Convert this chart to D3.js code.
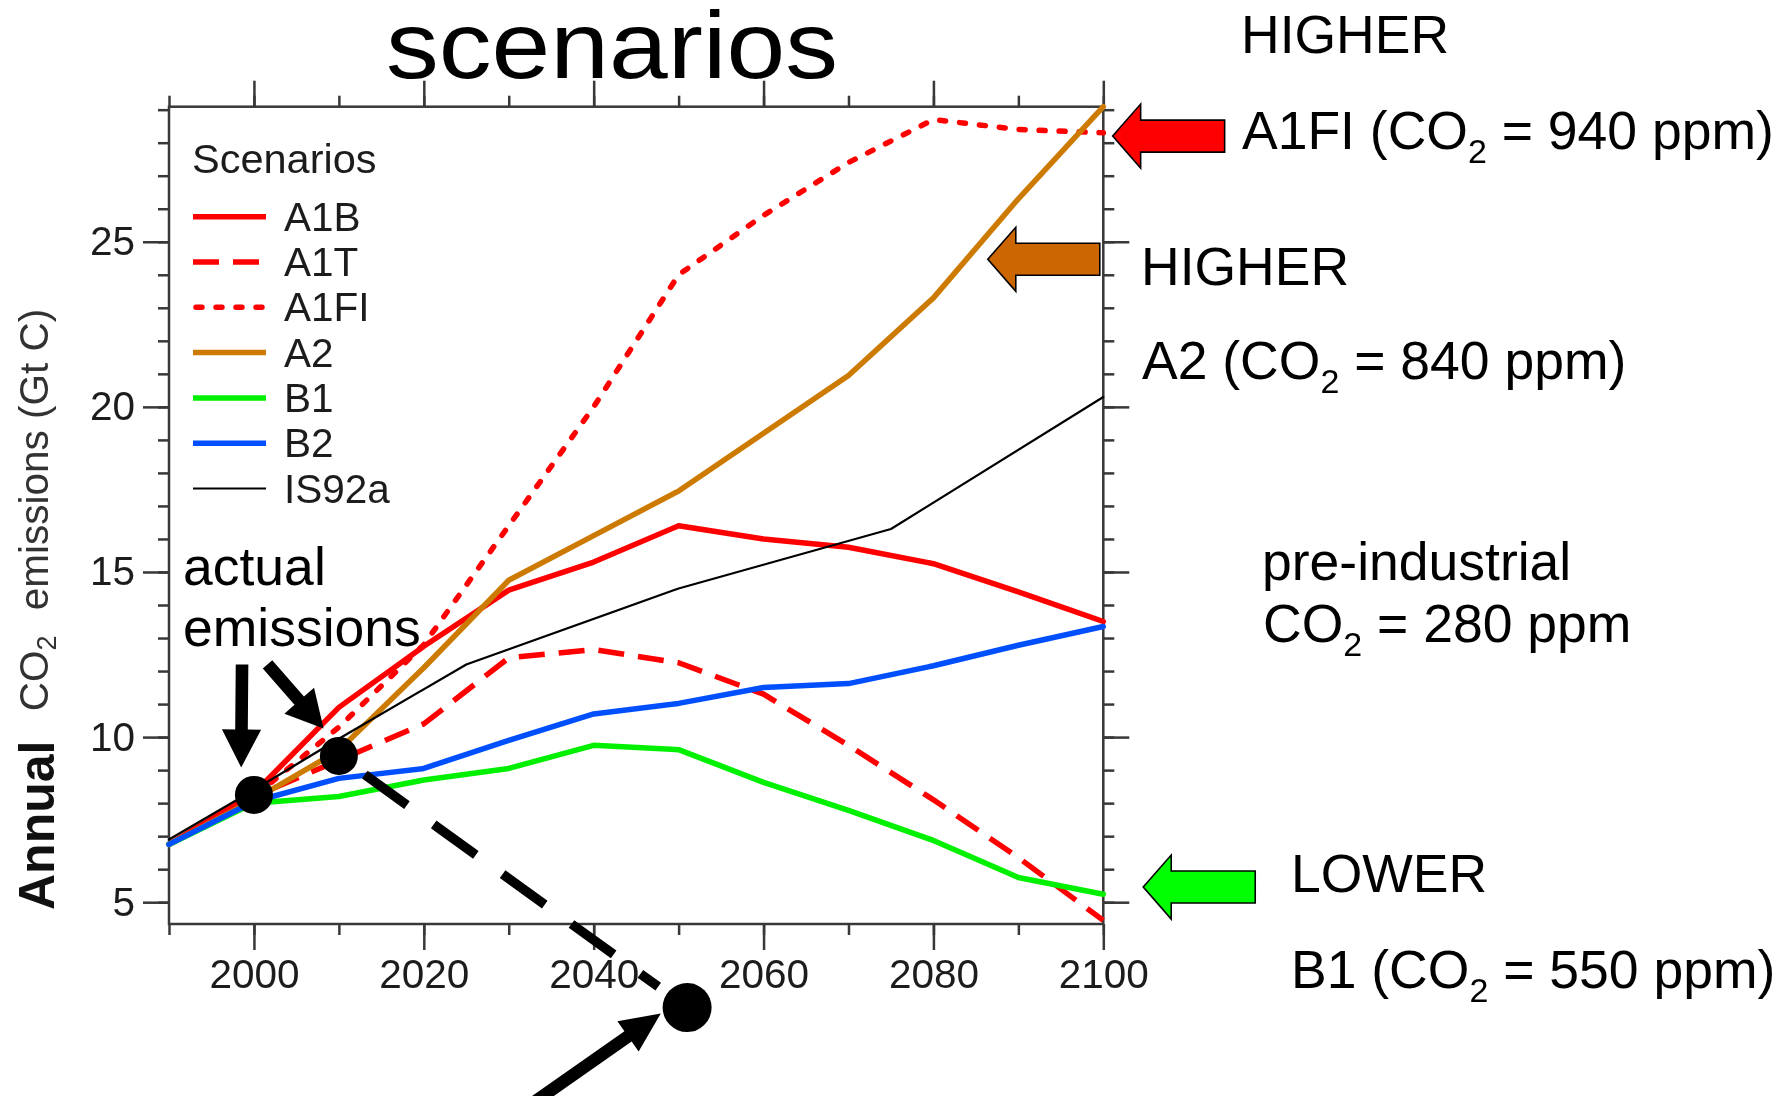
<!DOCTYPE html>
<html>
<head>
<meta charset="utf-8">
<script src="https://cdn.jsdelivr.net/npm/d3@7"></script>
<style>
  html, body { margin: 0; padding: 0; background: #fff; }
  svg { display: block; }
</style>
</head>
<body>
<svg id="chart" width="1775" height="1096"></svg>
<script>
// ---- data: annual CO2 emissions (Gt C) per scenario ----
const years = [1990, 2000, 2010, 2020, 2030, 2040, 2050, 2060, 2070, 2080, 2090, 2100];
const a1b  = [6.75, 8.3, 10.9, 12.75, 14.45, 15.3, 16.4, 16.0, 15.75, 15.25, 14.4, 13.5];
const a1t  = [6.75, 8.2, 9.3, 10.4, 12.4, 12.65, 12.25, 11.3, 9.75, 8.1, 6.35, 4.45];
const a1fi = [6.75, 8.2, 10.3, 12.8, 16.4, 20.0, 24.0, 25.8, 27.4, 28.7, 28.4, 28.3];
const a2   = [6.75, 8.1, 9.6, 12.1, 14.75, 16.1, 17.45, 19.2, 20.95, 23.3, 26.3, 29.09];
const b1   = [6.75, 8.0, 8.2, 8.7, 9.05, 9.75, 9.62, 8.63, 7.78, 6.87, 5.75, 5.24];
const b2   = [6.75, 8.05, 8.75, 9.05, 9.9, 10.7, 11.02, 11.5, 11.62, 12.16, 12.78, 13.35];
const is92aYears = [1990, 2000, 2010, 2025, 2050, 2075, 2100];
const is92a = [6.9, 8.4, 9.95, 12.2, 14.5, 16.3, 20.3];

const legendNames = ["A1B", "A1T", "A1FI", "A2", "B1", "B2", "IS92a"];

// ticks
const xMajorTicks = [2000, 2020, 2040, 2060, 2080, 2100];
const xMinorTicks = [1990, 2000, 2010, 2020, 2030, 2040, 2050, 2060, 2070, 2080, 2090, 2100];
const yMajorTicks = [5, 10, 15, 20, 25];
const yMinorTicks = d3.range(5, 30);

// actual emissions markers (year, Gt C)
const actualYears  = [2000, 2010, 2051];
const actualValues = [8.25, 9.43, 1.81];

// ---- layout ----
const svg = d3.select("#chart");
const FONT = "'Liberation Sans', Arial, Helvetica, sans-serif";
const plot = { left: 169, right: 1103.3, top: 106.7, bottom: 924 };

const x = d3.scaleLinear().domain([1990, 2100]).range([plot.left, plot.right]);
const y = d3.scaleLinear().domain([4.34, 29.09]).range([plot.bottom, plot.top]);

const defs = svg.append("defs");
defs.append("filter").attr("id", "soft")
  .attr("x", "-5%").attr("y", "-5%").attr("width", "110%").attr("height", "110%")
  .append("feGaussianBlur").attr("stdDeviation", 0.7);

const chart = svg.append("g").attr("filter", "url(#soft)");

const AXIS_COL = "#383838";
const LABEL_COL = "#1e1e1e";
function styleAxis(sel) {
  sel.select(".domain").remove();
  sel.selectAll(".tick line").attr("stroke", AXIS_COL).attr("stroke-width", 2.5);
  sel.selectAll(".tick text")
    .attr("fill", LABEL_COL)
    .attr("font-family", FONT)
    .attr("font-size", 40.5);
}

// bottom
chart.append("g").attr("transform", `translate(0,${plot.bottom})`)
  .call(d3.axisBottom(x).tickValues(xMinorTicks).tickSize(11).tickFormat(""))
  .call(styleAxis);
chart.append("g").attr("transform", `translate(0,${plot.bottom})`)
  .call(d3.axisBottom(x).tickValues(xMajorTicks).tickSize(26).tickPadding(9).tickFormat(d3.format("d")))
  .call(styleAxis);
// top
chart.append("g").attr("transform", `translate(0,${plot.top})`)
  .call(d3.axisTop(x).tickValues(xMinorTicks).tickSize(11).tickFormat(""))
  .call(styleAxis);
chart.append("g").attr("transform", `translate(0,${plot.top})`)
  .call(d3.axisTop(x).tickValues(xMajorTicks).tickSize(26).tickFormat(""))
  .call(styleAxis);
// left
chart.append("g").attr("transform", `translate(${plot.left},0)`)
  .call(d3.axisLeft(y).tickValues(yMinorTicks).tickSize(11).tickFormat(""))
  .call(styleAxis);
chart.append("g").attr("transform", `translate(${plot.left},0)`)
  .call(d3.axisLeft(y).tickValues(yMajorTicks).tickSize(26).tickPadding(8).tickFormat(d3.format("d")))
  .call(styleAxis);
// right
chart.append("g").attr("transform", `translate(${plot.right},0)`)
  .call(d3.axisRight(y).tickValues(yMinorTicks).tickSize(11).tickFormat(""))
  .call(styleAxis);
chart.append("g").attr("transform", `translate(${plot.right},0)`)
  .call(d3.axisRight(y).tickValues(yMajorTicks).tickSize(26).tickFormat(""))
  .call(styleAxis);

// frame
chart.append("rect")
  .attr("x", plot.left).attr("y", plot.top)
  .attr("width", plot.right - plot.left).attr("height", plot.bottom - plot.top)
  .attr("fill", "none").attr("stroke", AXIS_COL).attr("stroke-width", 2.5);

// ---- series ----
const zip = (xs, vs) => xs.map((yr, i) => ({ year: yr, value: vs[i] }));
const series = [
  { name: "A1FI",  data: zip(years, a1fi), color: "#ff0000", width: 5.5, dash: "6 14", cap: "round" },
  { name: "A1T",   data: zip(years, a1t),  color: "#ff0000", width: 5.5, dash: "26 14", cap: "butt" },
  { name: "A1B",   data: zip(years, a1b),  color: "#ff0000", width: 5.5, dash: null, cap: "round" },
  { name: "A2",    data: zip(years, a2),   color: "#cc7a00", width: 5.5, dash: null, cap: "round" },
  { name: "B1",    data: zip(years, b1),   color: "#00f000", width: 5.5, dash: null, cap: "round" },
  { name: "B2",    data: zip(years, b2),   color: "#0050ff", width: 5.5, dash: null, cap: "round" },
  { name: "IS92a", data: zip(is92aYears, is92a), color: "#000000", width: 2.2, dash: null, cap: "round" }
];

const line = d3.line().x(d => x(d.year)).y(d => y(d.value));

chart.append("g").selectAll("path").data(series).join("path")
  .attr("d", d => line(d.data))
  .attr("fill", "none")
  .attr("stroke", d => d.color)
  .attr("stroke-width", d => d.width)
  .attr("stroke-dasharray", d => d.dash)
  .attr("stroke-linecap", d => d.cap)
  .attr("stroke-linejoin", "round");

// ---- legend ----
const legend = chart.append("g");
legend.append("text")
  .attr("x", 192).attr("y", 172.7)
  .attr("font-family", FONT).attr("font-size", 41.5).attr("fill", LABEL_COL)
  .text("Scenarios");

const styleByName = Object.fromEntries(series.map(s => [s.name, s]));
const rows = legend.selectAll("g.row").data(legendNames).join("g")
  .attr("class", "row")
  .attr("transform", (d, i) => `translate(0,${216.7 + i * 45.3})`);
rows.append("line")
  .attr("x1", d => styleByName[d].cap === "round" && styleByName[d].dash ? 196 : 193)
  .attr("x2", 266)
  .attr("stroke", d => styleByName[d].color)
  .attr("stroke-width", d => styleByName[d].width)
  .attr("stroke-dasharray", d => styleByName[d].dash)
  .attr("stroke-linecap", d => styleByName[d].dash ? styleByName[d].cap : "butt");
rows.append("text")
  .attr("x", 284).attr("y", 14)
  .attr("font-family", FONT).attr("font-size", 40.5).attr("fill", LABEL_COL)
  .text(d => d);

// ---- axis titles ----
const yTitle = chart.append("text")
  .attr("transform", "translate(48,510) rotate(-90)")
  .attr("text-anchor", "middle")
  .attr("font-family", FONT).attr("font-size", 40.5).attr("fill", "#333");
yTitle.append("tspan").text("CO");
yTitle.append("tspan").attr("font-size", 27).attr("dy", 8).text("2");
yTitle.append("tspan").attr("dy", -8).attr("dx", 14).text(" emissions (Gt C)");

svg.append("text")
  .attr("transform", "translate(54,910) rotate(-90)")
  .attr("font-family", FONT).attr("font-weight", "bold").attr("font-size", 50).attr("fill", "#111")
  .text("Annual");

// ---- title ----
svg.append("text")
  .attr("x", 386).attr("y", 78)
  .attr("font-family", FONT).attr("font-size", 95).attr("fill", "#000")
  .attr("textLength", 452).attr("lengthAdjust", "spacingAndGlyphs")
  .text("scenarios");

// ---- annotations ----
const ann = svg.append("g");

// text with a CO2 subscript
function richText(px, py, before, after) {
  const t = ann.append("text").attr("x", px).attr("y", py)
    .attr("font-family", FONT).attr("font-size", 53.5).attr("fill", "#000");
  if (after === undefined) { t.text(before); return t; }
  t.append("tspan").text(before);
  t.append("tspan").attr("font-size", 34).attr("dy", 14).text("2");
  t.append("tspan").attr("dy", -14).text(after);
  return t;
}
richText(1241, 53, "HIGHER");
richText(1242, 149, "A1FI (CO", " = 940 ppm)");
richText(1141, 285, "HIGHER");
richText(1142, 379, "A2 (CO", " = 840 ppm)");
richText(1262, 580, "pre-industrial");
richText(1263, 642, "CO", " = 280 ppm");
richText(1291, 892, "LOWER");
richText(1291, 988, "B1 (CO", " = 550 ppm)");
richText(183, 585, "actual");
richText(183, 646, "emissions");

// left-pointing block arrows at the scenario levels (tip year, level)
const blockArrows = [
  { tipYear: 2101.1, level: 28.2,  color: "#ff0000" },
  { tipYear: 2086.4, level: 24.47, color: "#cc6600" },
  { tipYear: 2104.7, level: 5.46,  color: "#00ff00" }
];
function blockArrowPath(tx, ty) {
  const headLen = 28, headHalf = 32, shaftHalf = 16, len = 112;
  return `M${tx},${ty} L${tx + headLen},${ty - headHalf} L${tx + headLen},${ty - shaftHalf}` +
    ` L${tx + len},${ty - shaftHalf} L${tx + len},${ty + shaftHalf} L${tx + headLen},${ty + shaftHalf}` +
    ` L${tx + headLen},${ty + headHalf} Z`;
}
ann.selectAll("path.block").data(blockArrows).join("path")
  .attr("class", "block")
  .attr("d", d => blockArrowPath(x(d.tipYear), y(d.level)))
  .attr("fill", d => d.color)
  .attr("stroke", "#000").attr("stroke-width", 1.6).attr("stroke-linejoin", "miter");

// actual emission markers
const dots = actualYears.map((yr, i) => ({ cx: x(yr), cy: y(actualValues[i]) }));
const dotR = [19, 19, 24.5];

// dashed extrapolation between the second and third markers
{
  const p = dots[1], q = dots[2];
  const dx = q.cx - p.cx, dy = q.cy - p.cy, L = Math.hypot(dx, dy);
  const ux = dx / L, uy = dy / L;
  ann.append("line")
    .attr("x1", p.cx + ux * 32).attr("y1", p.cy + uy * 32)
    .attr("x2", p.cx + ux * 394).attr("y2", p.cy + uy * 394)
    .attr("stroke", "#000").attr("stroke-width", 9.5)
    .attr("stroke-dasharray", "52 33");
}

ann.selectAll("circle").data(dots).join("circle")
  .attr("cx", d => d.cx).attr("cy", d => d.cy)
  .attr("r", (d, i) => dotR[i])
  .attr("fill", "#000");

// pointer arrows (from/to in year, Gt C)
const pointers = [
  { from: [1998.6, 12.2], to: [1998.5, 9.08], head: 38, half: 19.6 },
  { from: [2001.6, 12.2], to: [2008.2, 10.26], head: 37, half: 19.7 },
  { from: [2032.2, -1.2], to: [2047.9, 1.63], head: 40, half: 18.5 }
];
function pointerPath(d) {
  const x1 = x(d.from[0]), y1 = y(d.from[1]);
  const x2 = x(d.to[0]), y2 = y(d.to[1]);
  const L = Math.hypot(x2 - x1, y2 - y1);
  const ux = (x2 - x1) / L, uy = (y2 - y1) / L;
  const nx = -uy, ny = ux, sw = 6.3;
  const bx = x2 - ux * d.head, by = y2 - uy * d.head;
  const pts = [
    [x1 + nx * sw, y1 + ny * sw],
    [bx + nx * sw, by + ny * sw],
    [bx + nx * d.half, by + ny * d.half],
    [x2, y2],
    [bx - nx * d.half, by - ny * d.half],
    [bx - nx * sw, by - ny * sw],
    [x1 - nx * sw, y1 - ny * sw]
  ];
  return "M" + pts.map(p => p.join(",")).join("L") + "Z";
}
ann.selectAll("path.pointer").data(pointers).join("path")
  .attr("class", "pointer")
  .attr("d", pointerPath)
  .attr("fill", "#000");
</script>
</body>
</html>
